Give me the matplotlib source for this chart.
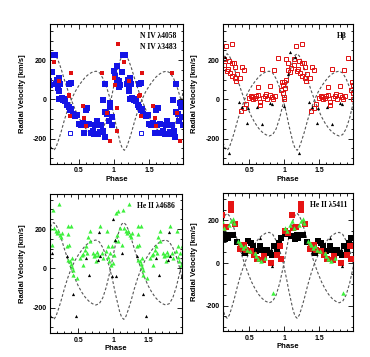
import numpy as np
import matplotlib
matplotlib.use('Agg')
import matplotlib.pyplot as plt
from matplotlib.ticker import MultipleLocator, FormatStrFormatter

# orbit curves (one cycle, phase 0..1)
curve_ph = [0.00, 0.03, 0.06, 0.09, 0.12, 0.15, 0.18, 0.21, 0.25, 0.30, 0.35, 0.40,
            0.45, 0.50, 0.55, 0.60, 0.65, 0.70, 0.75, 0.80, 0.85, 0.90, 0.95, 1.00]
curve_v1 = [68, 120, 160, 200, 225, 233, 222, 200, 160, 100, 45, -5,
            -50, -90, -122, -148, -167, -180, -187, -180, -150, -95, -20, 68]
curve_v2 = [-77, -130, -175, -220, -250, -260, -245, -215, -170, -105, -48, 0,
            38, 68, 93, 115, 130, 140, 144, 135, 105, 60, 0, -77]

# N IV panel
n4_blue_ph = [0.00, 0.02, 0.04, 0.05, 0.06, 0.07, 0.08, 0.09, 0.13, 0.16,
              0.12, 0.18, 0.20, 0.21, 0.22, 0.23, 0.24, 0.23, 0.26, 0.28,
              0.30, 0.31, 0.34, 0.36, 0.39, 0.36, 0.38, 0.40, 0.42, 0.45,
              0.48, 0.50, 0.53, 0.56, 0.58, 0.60, 0.62, 0.61, 0.65, 0.67,
              0.70, 0.72, 0.74, 0.76, 0.78, 0.80, 0.82, 0.84, 0.85, 0.87,
              0.88, 0.88, 0.91, 0.93, 0.94, 0.95, 0.97, 0.98]
n4_blue_v = [144, 119, 100, 170, 85, 65, 95, 75, 228, 228,
             141, 77, 100, 60, 45, 107, 80, 0, 5, -5,
             0, -10, -30, 80, 85, -40, -55, -50, -75, -85,
             -80, -125, -130, -120, -170, -55, -45, -130, -125, -170,
             -160, -175, -130, -110, -175, -165, -130, -5, -160, -192,
             80, -63, -77, -110, -20, -40, -90, -130]
n4_red_ph = [0.00, 0.01, 0.04, 0.05, 0.06, 0.15, 0.22, 0.36, 0.37, 0.38,
             0.40, 0.56, 0.58, 0.60, 0.83, 0.90, 0.94]
n4_red_v = [110, 75, -46, -162, 284, 192, 93, 17, 22, -85,
            136, -34, -95, -136, 136, -68, -215]
n4_open_ph = [0.38]
n4_open_v = [-170]

# H beta panel
hb_red_ph = [0.00, 0.00, 0.01, 0.02, 0.03, 0.05, 0.06, 0.08, 0.10, 0.14,
             0.145, 0.168, 0.18, 0.19, 0.217, 0.22, 0.25, 0.26, 0.26, 0.28,
             0.29, 0.29, 0.31, 0.33, 0.375, 0.39, 0.42, 0.38, 0.42, 0.455,
             0.50, 0.52, 0.54, 0.56, 0.58, 0.60, 0.62, 0.63, 0.65, 0.66,
             0.68, 0.70, 0.72, 0.74, 0.756, 0.79, 0.80, 0.82, 0.84, 0.86,
             0.87, 0.91, 0.95, 0.97, 0.98, 0.98, 0.99]
hb_red_v = [10, 90, 60, 100, 206, 187, 150, 140, 160, 178,
            204, 272, 144, 153, 195, 136, 284, 187, 119, 187,
            111, 165, 93, 128, 111, 165, 148, -60, -42, -26,
            5, 15, 10, 0, 8, 15, 63, 20, -15, -30,
            153, 5, 15, 25, 0, 68, 20, 10, 0, 148,
            17, 213, 50, 90, 75, 32, 0]
hb_blk_ph = [0.00, 0.06, 0.08, 0.15, 0.21, 0.36, 0.39, 0.47, 0.48, 0.61, 0.68, 0.80, 0.83]
hb_blk_v = [-34, 128, 243, 216, -272, -12, -40, -119, -42, -39, -128, -20, -25]

# He II 4686 panel
he1_grn_ph = [0.133, 0.229, 0.152, 0.176, 0.19, 0.214, 0.238, 0.252, 0.262, 0.357,
              0.39, 0.357, 0.333, 0.37, 0.348, 0.38, 0.39, 0.405, 0.42, 0.43,
              0.486, 0.405, 0.524, 0.548, 0.571, 0.562, 0.595, 0.61, 0.63, 0.643,
              0.667, 0.667, 0.705, 0.724, 0.738, 0.762, 0.786, 0.752, 0.81, 0.833,
              0.857, 0.895, 0.905, 0.92, 0.93, 0.943, 0.952, 0.976, 0.962, 0.038,
              0.071, 0.024, 0.048, 0.07, 0.095, 0.119, 0.00, 0.01]
he1_grn_v = [296, 325, 206, 189, 180, 189, 172, 158, 180, 214,
             214, 175, 112, 121, 44, 36, 22, 5, -7, -32,
             -49, 53, 53, 66, 73, 19, 95, 112, 78, 158,
             138, 189, 78, 61, 70, 83, 66, 39, 214, 78,
             53, 87, 189, 112, 56, 36, 78, 112, 15, 282,
             291, 146, 172, 138, 206, 121, 27, 70]
he1_blk_ph = [0.34, 0.43, 0.47, 0.605, 0.652, 0.78, 0.795, 0.814, 0.975, 0.995,
              0.03, 0.04, 0.12]
he1_blk_v = [65, -129, -245, 53, -36, 44, 186, 61, -41, 252,
             146, -41, 78]

# He II 5411 panel
he2_sq_ph = [0.139, 0.187, 0.268, 0.33, 0.397, 0.435, 0.483, 0.52, 0.555, 0.60,
             0.65, 0.68, 0.76, 0.79, 0.83, 0.856, 0.89, 0.92, 0.96, 0.01,
             0.057, 0.096, 0.15, 0.20]
he2_sq_v = [125, 133, 130, 99, 78, 47, 102, 94, 78, 55,
            78, 63, 63, 47, 36, 78, 58, 94, 118, 136,
            141, 125, 114, 118]
he2_red_ph = [0.244, 0.244, 0.172, 0.30, 0.364, 0.388, 0.426, 0.46, 0.53, 0.57,
              0.617, 0.70, 0.71, 0.81, 0.89, 0.96, 0.94, 0.01, 0.057, 0.105,
              0.13]
he2_red_v = [275, 248, 168, 184, 66, 78, 86, 63, 58, 39,
             19, 16, 31, 0, 39, 20, 78, 152, 141, 227,
             165]
he2_grn_ph = [0.139, 0.206, 0.244, 0.27, 0.28, 0.34, 0.364, 0.388, 0.41, 0.445,
              0.474, 0.507, 0.58, 0.60, 0.627, 0.665, 0.72, 0.842, 0.01, 0.033,
              0.08, 0.105]
he2_grn_v = [165, 180, 196, 209, 188, 102, 94, 86, 70, 78,
             63, 55, 47, 31, 20, 11, 24, -141, 165, 149,
             180, 196]
he2_blk_ph = [0.39, 0.65, 0.81, 0.83]
he2_blk_v = [52, 118, 67, -16]

W, H = 370, 357
fig = plt.figure(figsize=(W / 100, H / 100), dpi=100)
SANS = ['Liberation Sans Narrow', 'Liberation Sans', 'DejaVu Sans']


def box(l, r, t, b):
    return [l / W, 1 - b / H, (r - l) / W, (b - t) / H]


def fold(ph, v):
    ph = np.asarray(ph, float)
    return np.concatenate([ph, ph + 1]), np.concatenate([v, v])


def setup(ax, xlim, ylim, label, shift):
    ph = np.asarray(curve_ph) + shift
    x = np.concatenate([ph, ph[1:] + 1])
    for cv in (curve_v1, curve_v2):
        y = np.concatenate([cv, cv[1:]])
        ax.plot(x, y, ls=(0, (2.5, 1.8)), color='#555555', lw=0.8, zorder=1)
    ax.set_xlim(*xlim)
    ax.set_ylim(*ylim)
    ax.xaxis.set_major_locator(MultipleLocator(0.5))
    ax.xaxis.set_minor_locator(MultipleLocator(0.1))
    ax.yaxis.set_major_locator(MultipleLocator(200))
    ax.yaxis.set_minor_locator(MultipleLocator(50))
    ax.xaxis.set_major_formatter(FormatStrFormatter('%g'))
    ax.yaxis.set_major_formatter(FormatStrFormatter('%d'))
    ax.tick_params(which='both', direction='in', top=True, right=True,
                   labelsize=5, width=0.6, pad=2.5)
    ax.tick_params(which='major', length=3.5)
    ax.tick_params(which='minor', length=1.8)
    for t in ax.get_xticklabels() + ax.get_yticklabels():
        t.set_fontweight('bold')
        t.set_family(SANS)
    for s in ax.spines.values():
        s.set_linewidth(0.8)
    ax.set_xlabel('Phase', fontsize=5.5, fontweight='bold', family=SANS, labelpad=1)
    ax.set_ylabel('Radial Velocity [km/s]', fontsize=5.5, fontweight='bold',
                  family=SANS, labelpad=5)
    ax.text(0.95, 0.94, label, transform=ax.transAxes, ha='right', va='top',
            fontsize=5.5, family='Liberation Serif', fontweight='bold', linespacing=1.4)


# N IV
ax1 = fig.add_axes(box(50.3, 183.3, 24, 164))
setup(ax1, (0.1, 1.985), (-330, 385), 'N IV \u03bb4058\nN IV \u03bb3483', 0.0)
x, y = fold(n4_blue_ph, n4_blue_v)
ax1.plot(x, y, 's', color='#1414e6', ms=4.6, mew=0, zorder=2)
x, y = fold(n4_red_ph, n4_red_v)
ax1.plot(x, y, 's', color='#e01010', ms=2.8, mew=0, zorder=3)
x, y = fold(n4_open_ph, n4_open_v)
ax1.plot(x, y, 's', mfc='none', mec='#1414e6', ms=2.8, mew=0.7, zorder=3)

# H beta
ax2 = fig.add_axes(box(223, 353.5, 24, 164))
setup(ax2, (0.125, 1.99), (-330, 385), 'H\u03b2', 0.035)
x, y = fold(hb_red_ph, hb_red_v)
ax2.plot(x, y, 's', mfc='none', mec='#e01010', ms=3.3, mew=0.7, zorder=2)
x, y = fold(hb_blk_ph, hb_blk_v)
ax2.plot(x, y, '^', color='black', ms=2.3, mew=0, zorder=3)

# He II 4686
ax3 = fig.add_axes(box(50.3, 181.9, 193.7, 333.3))
setup(ax3, (0.1, 1.98), (-331, 380), 'He II \u03bb4686', 0.0)
x, y = fold(he1_grn_ph, he1_grn_v)
ax3.plot(x, y, '^', color='#3cf03c', ms=3.0, mew=0, zorder=2)
x, y = fold(he1_blk_ph, he1_blk_v)
ax3.plot(x, y, '^', color='black', ms=2.3, mew=0, zorder=3)

# He II 5411
ax4 = fig.add_axes(box(223, 353.5, 193, 331.3))
setup(ax4, (0.125, 1.99), (-321, 329), 'He II \u03bb5411', 0.035)
x, y = fold(he2_sq_ph, he2_sq_v)
ax4.plot(x, y, 's', color='black', ms=4.4, mew=0, zorder=2)
x, y = fold(he2_red_ph, he2_red_v)
ax4.plot(x, y, 's', color='#e61414', ms=3.8, mew=0, zorder=3)
x, y = fold(he2_grn_ph, he2_grn_v)
ax4.plot(x, y, '^', color='#3cf03c', ms=3.2, mew=0, zorder=4)
x, y = fold(he2_blk_ph, he2_blk_v)
ax4.plot(x, y, '^', color='black', ms=2.3, mew=0, zorder=5)

fig.savefig('out.png', dpi=100)
